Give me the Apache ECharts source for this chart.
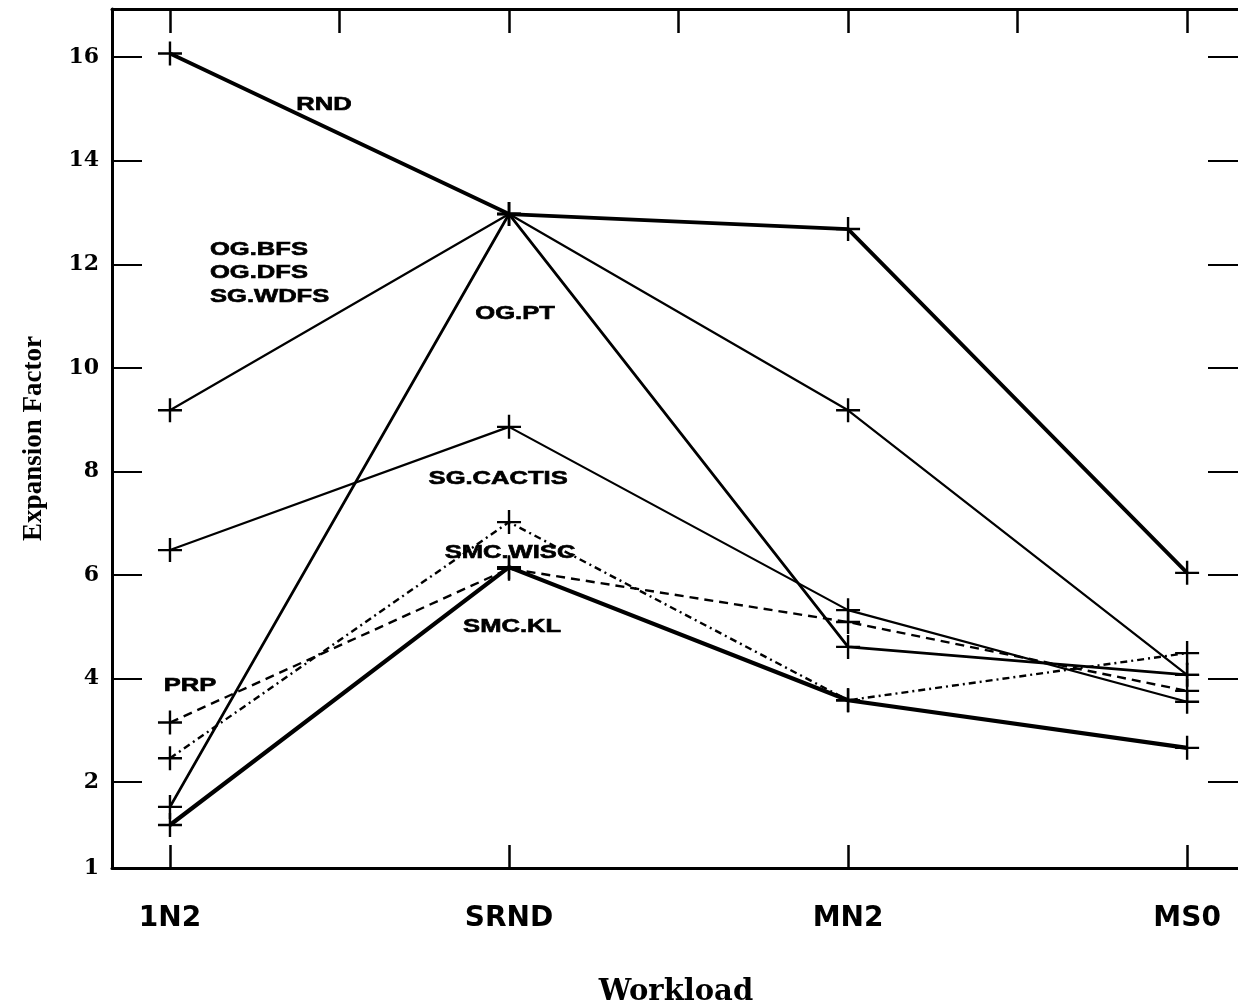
<!DOCTYPE html>
<html><head><meta charset="utf-8">
<script src="https://cdn.jsdelivr.net/npm/echarts@6/dist/echarts.min.js"></script>
<style>html,body{margin:0;padding:0;background:#fff}#c{width:1238px;height:1007px}</style>
</head><body><div id="c"></div>
<script>
// ---- data ----
const categories = ['1N2', 'SRND', 'MN2', 'MS0'];
const rnd      = [16.07, 12.97, 12.68, 6.04];
const ogBfs    = [9.18, 12.97, 9.18, 4.07];
const ogPt     = [1.52, 12.97, 4.61, 4.07];
const sgCactis = [6.48, 8.86, 5.32, 3.55];
const smcWisc  = [2.46, 7.02, 3.58, 4.49];
const smcKl    = [1.17, 6.15, 3.58, 2.66];
const prp      = [3.15, 6.12, 5.09, 3.76];
const yTickValues = [0.34, 2, 4, 6, 8, 10, 12, 14, 16];
const yTickLabels = ['1', '2', '4', '6', '8', '10', '12', '14', '16'];
const topTickValues = [0, 0.5, 1, 1.5, 2, 2.5, 3];

// ---- layout / styles ----
const yMin = 0.34, yMax = 16.93, xMin = -0.171, xMax = 3.156;
const plus = 'path://M9,0H11V9H20V11H11V20H9V11H0V9H9Z';
const seriesDefs = [
  { name: 'RND', data: rnd, width: 3.8, type: 'solid' },
  { name: 'OG.BFS', data: ogBfs, width: 2.2, type: 'solid' },
  { name: 'OG.PT', data: ogPt, width: 2.8, type: 'solid' },
  { name: 'SG.CACTIS', data: sgCactis, width: 2.2, type: 'solid' },
  { name: 'SMC.WISC', data: smcWisc, width: 2.4, type: [7, 4, 2, 4] },
  { name: 'SMC.KL', data: smcKl, width: 4.2, type: 'solid' },
  { name: 'PRP', data: prp, width: 2.4, type: [9, 6] }
];
const annotations = [
  { text: 'RND', at: [0.454, 15.07], align: 'center' },
  { text: 'OG.BFS', at: [0.118, 12.27], align: 'left' },
  { text: 'OG.DFS', at: [0.118, 11.83], align: 'left' },
  { text: 'SG.WDFS', at: [0.118, 11.37], align: 'left' },
  { text: 'OG.PT', at: [1.018, 11.04], align: 'center' },
  { text: 'SG.CACTIS', at: [0.968, 7.85], align: 'center' },
  { text: 'SMC.WISC', at: [1.003, 6.42], align: 'center' },
  { text: 'SMC.KL', at: [1.009, 5.0], align: 'center' },
  { text: 'PRP', at: [0.059, 3.86], align: 'center' }
];

const chart = echarts.init(document.getElementById('c'), null, { renderer: 'canvas' });
const axisLine = { show: true, onZero: false, lineStyle: { color: '#000', width: 3 } };

chart.setOption({
  animation: false,
  backgroundColor: '#fff',
  grid: { left: 112, right: -2, top: 9, bottom: 139, containLabel: false, outerBoundsMode: 'none' },
  xAxis: [
    {
      type: 'value', min: xMin, max: xMax, position: 'bottom',
      axisLine: axisLine, splitLine: { show: false },
      axisTick: { show: true, inside: true, length: 23, customValues: [0, 1, 2, 3], lineStyle: { color: '#000', width: 2.5 } },
      axisLabel: {
        show: true, customValues: [0, 1, 2, 3], margin: 37,
        formatter: v => categories[Math.round(v)],
        fontFamily: 'DejaVu Sans', fontWeight: 'bold', fontSize: 28, color: '#000'
      },
      name: 'Workload', nameLocation: 'middle', nameGap: 110,
      nameTextStyle: { fontFamily: 'DejaVu Serif', fontWeight: 'bold', fontSize: 29, color: '#000' }
    },
    {
      type: 'value', min: xMin, max: xMax, position: 'top',
      axisLine: axisLine, splitLine: { show: false },
      axisTick: { show: true, inside: true, length: 24, customValues: topTickValues, lineStyle: { color: '#000', width: 2.5 } },
      axisLabel: { show: false }
    }
  ],
  yAxis: [
    {
      type: 'value', min: yMin, max: yMax, position: 'left',
      axisLine: axisLine, splitLine: { show: false },
      axisTick: { show: true, inside: true, length: 30, customValues: yTickValues.slice(1), lineStyle: { color: '#000', width: 2 } },
      axisLabel: {
        show: true, customValues: yTickValues, margin: 13,
        formatter: v => yTickLabels[yTickValues.indexOf(v)],
        fontFamily: 'DejaVu Serif', fontWeight: 'bold', fontSize: 22, color: '#000'
      },
      name: 'Expansion Factor', nameLocation: 'middle', nameGap: 64, nameRotate: 90,
      nameTextStyle: { fontFamily: 'Liberation Serif', fontWeight: 'bold', fontSize: 27, color: '#000' }
    },
    {
      type: 'value', min: yMin, max: yMax, position: 'right',
      axisLine: axisLine, splitLine: { show: false },
      axisTick: { show: true, inside: true, length: 32, customValues: yTickValues.slice(1), lineStyle: { color: '#000', width: 2 } },
      axisLabel: { show: false }
    }
  ],
  series: seriesDefs.map(d => ({
    name: d.name, type: 'line', xAxisIndex: 0, yAxisIndex: 0,
    data: d.data.map((v, i) => [i, v]),
    symbol: plus, symbolSize: 24, showSymbol: true,
    itemStyle: { color: '#000' },
    lineStyle: { color: '#000', width: d.width, type: d.type },
    emphasis: { disabled: true }
  }))
});

chart.setOption({
  graphic: annotations.map(a => {
    const p = chart.convertToPixel({ gridIndex: 0 }, a.at);
    return {
      type: 'text', x: p[0], y: p[1], scaleX: 1.42,
      style: {
        text: a.text, align: a.align, verticalAlign: 'middle',
        font: 'bold 18px "Liberation Sans"', fill: '#000',
        stroke: '#000', lineWidth: 0.6
      }
    };
  })
});
</script>
</body></html>
